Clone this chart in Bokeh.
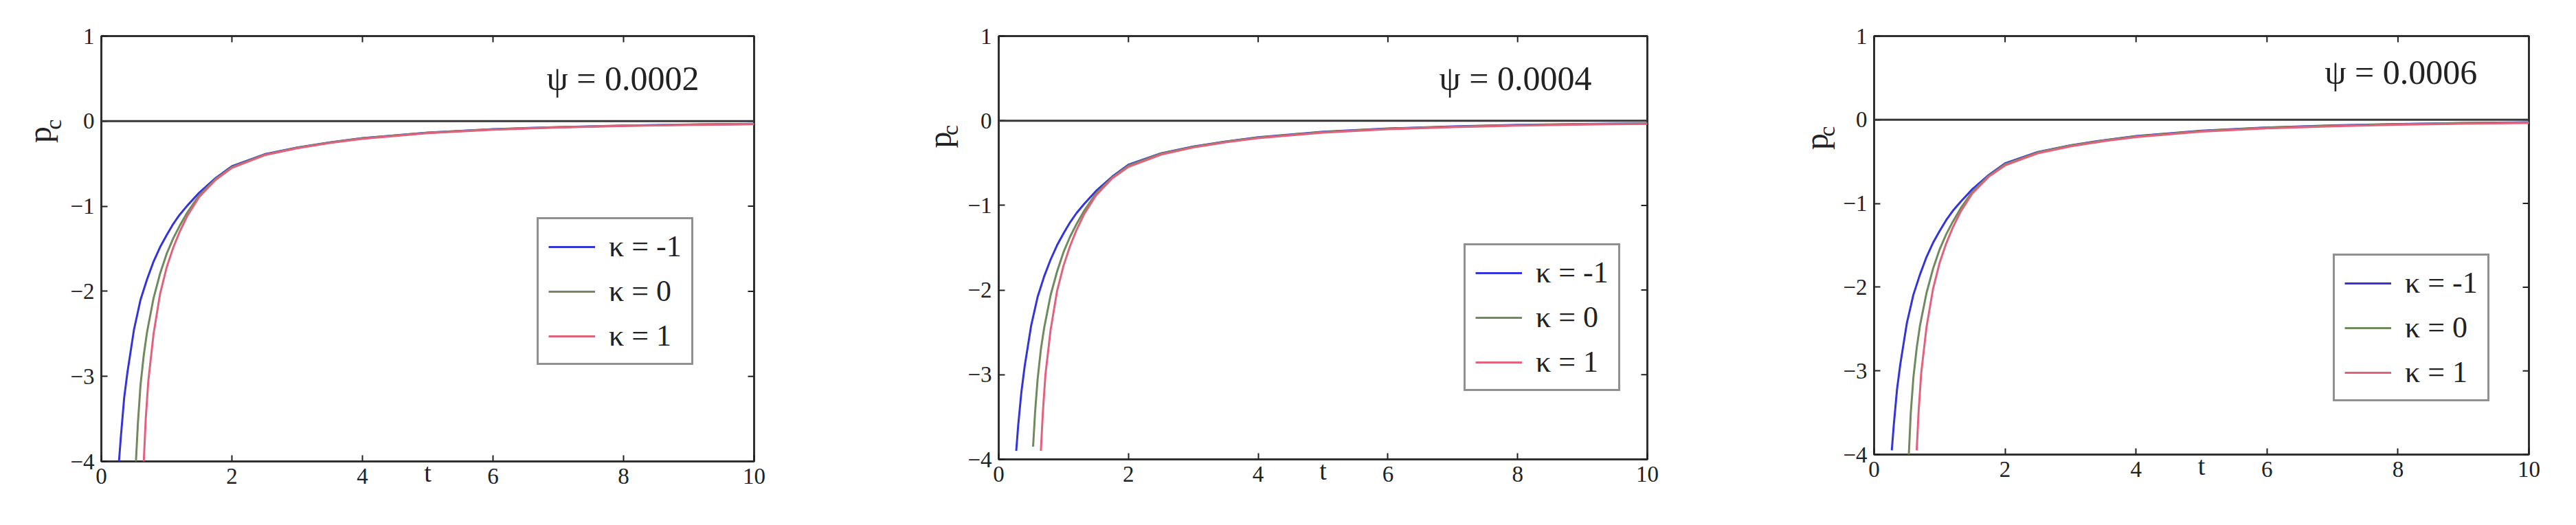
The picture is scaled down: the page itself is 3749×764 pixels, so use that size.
import math
from bokeh.plotting import figure
from bokeh.models import Span, Label, FixedTicker, Range1d
from bokeh.layouts import row
from bokeh.embed import file_html
from bokeh.resources import INLINE

# ---------------- data ----------------
X_TICKS = [0, 2, 4, 6, 8, 10]
Y_TICKS = [-4, -3, -2, -1, 0, 1]
PSI_LABELS = ["ψ = 0.0002", "ψ = 0.0004", "ψ = 0.0006"]
KAPPA_LABELS = ["κ = -1", "κ = 0", "κ = 1"]

# time samples for each curve
T_KM1 = [0.27, 0.30, 0.35, 0.40, 0.50, 0.60, 0.70, 0.80, 0.90, 1.00, 1.10, 1.20, 1.32,
         1.50, 1.75, 2.00, 2.50, 3.00, 3.50, 4.00, 5.00, 6.00, 7.00, 8.00, 9.00, 10.0]
T_K0 = [0.53, 0.56, 0.60, 0.65, 0.70, 0.80, 0.90, 1.00, 1.10, 1.20, 1.32,
        1.50, 1.75, 2.00, 2.50, 3.00, 3.50, 4.00, 5.00, 6.00, 7.00, 8.00, 9.00, 10.0]
T_KP1 = [0.65, 0.68, 0.72, 0.80, 0.90, 1.00, 1.10, 1.20, 1.32,
         1.50, 1.75, 2.00, 2.50, 3.00, 3.50, 4.00, 5.00, 6.00, 7.00, 8.00, 9.00, 10.0]

# psi = 0.0002
P1_KM1 = [-4.0, -3.7, -3.25, -2.95, -2.45, -2.1, -1.86, -1.65, -1.48, -1.34, -1.21, -1.1, -0.99,
          -0.84, -0.67, -0.53, -0.39, -0.31, -0.25, -0.20, -0.135, -0.095, -0.07, -0.052, -0.04, -0.032]
P1_K0 = [-4.0, -3.55, -3.1, -2.75, -2.48, -2.08, -1.79, -1.56, -1.38, -1.23, -1.07,
         -0.87, -0.68, -0.54, -0.395, -0.312, -0.252, -0.202, -0.137, -0.097, -0.072, -0.054, -0.042, -0.033]
P1_KP1 = [-4.0, -3.5, -3.05, -2.5, -2.03, -1.72, -1.49, -1.3, -1.11,
          -0.89, -0.69, -0.55, -0.40, -0.318, -0.257, -0.207, -0.14, -0.10, -0.075, -0.057, -0.045, -0.036]

# psi = 0.0004
P2_KM1 = [-3.9, -3.6, -3.2, -2.9, -2.42, -2.08, -1.84, -1.64, -1.47, -1.33, -1.2, -1.09, -0.98,
          -0.83, -0.66, -0.52, -0.385, -0.305, -0.245, -0.195, -0.13, -0.092, -0.068, -0.05, -0.039, -0.031]
P2_K0 = [-3.85, -3.45, -3.05, -2.7, -2.45, -2.06, -1.78, -1.55, -1.37, -1.22, -1.06,
         -0.86, -0.67, -0.53, -0.39, -0.308, -0.248, -0.199, -0.135, -0.095, -0.071, -0.053, -0.041, -0.033]
P2_KP1 = [-3.9, -3.45, -3.0, -2.47, -2.01, -1.71, -1.48, -1.29, -1.1,
          -0.88, -0.68, -0.545, -0.40, -0.316, -0.255, -0.205, -0.14, -0.10, -0.075, -0.057, -0.045, -0.036]

# psi = 0.0006
P3_KM1 = [-3.95, -3.65, -3.22, -2.92, -2.43, -2.09, -1.85, -1.64, -1.47, -1.33, -1.2, -1.09, -0.98,
          -0.83, -0.66, -0.52, -0.385, -0.305, -0.245, -0.195, -0.13, -0.092, -0.068, -0.05, -0.039, -0.031]
P3_K0 = [-4.0, -3.5, -3.08, -2.73, -2.46, -2.07, -1.78, -1.55, -1.37, -1.22, -1.06,
         -0.86, -0.67, -0.53, -0.39, -0.308, -0.248, -0.199, -0.135, -0.095, -0.071, -0.053, -0.041, -0.033]
P3_KP1 = [-3.95, -3.48, -3.02, -2.48, -2.02, -1.71, -1.48, -1.29, -1.1,
          -0.88, -0.68, -0.545, -0.40, -0.318, -0.257, -0.207, -0.142, -0.102, -0.077, -0.059, -0.047, -0.038]

COLORS = ["#3434dc", "#6f8a5c", "#e2627c"]

FONT = "Liberation Serif"
TXT = "#222222"
TICK_COLOR = "#202020"
FIG_H = 741


def make_ylabel(width, p_pos, c_pos):
    """Narrow strip left of a panel that carries the rotated y label p_c."""
    f = figure(width=width, height=FIG_H, x_range=Range1d(0, width),
               y_range=Range1d(FIG_H, 0), x_axis_type=None, y_axis_type=None,
               min_border=0, output_backend="svg", toolbar_location=None,
               background_fill_color="white", border_fill_color="white")
    f.outline_line_color = None
    f.grid.visible = False
    f.add_layout(Label(x=p_pos[0], y=p_pos[1], text="p", angle=math.pi / 2,
                       text_font=FONT, text_font_size="48px", text_color=TXT,
                       text_align="center", text_baseline="middle"))
    f.add_layout(Label(x=c_pos[0], y=c_pos[1], text="c", angle=math.pi / 2,
                       text_font=FONT, text_font_size="34px", text_color=TXT,
                       text_align="center", text_baseline="middle"))
    return f


def make_panel(psi_label, series, geom):
    (bl, fw, br, bt, fh, bb, leg_loc, psi_xy) = geom
    xr = Range1d(0, 10)
    yr = Range1d(-4, 1)
    p = figure(frame_width=fw, frame_height=fh,
               min_border_left=bl, min_border_right=br,
               min_border_top=bt, min_border_bottom=bb,
               x_range=xr, y_range=yr,
               output_backend="svg", toolbar_location=None,
               background_fill_color="white", border_fill_color="white")
    p.grid.visible = False
    p.outline_line_color = "#303030"
    p.outline_line_width = 3
    p.outline_line_alpha = 1

    # zero line
    p.add_layout(Span(location=0, dimension="width", line_color="#383838", line_width=3))

    for (tt, pp), col, lab in zip(series, COLORS, KAPPA_LABELS):
        p.line(tt, pp, line_color=col, line_width=3, legend_label=lab)

    # inward ticks on top and right edges (MATLAB-style box)
    p.ray(x=X_TICKS, y=[yr.end] * len(X_TICKS), length=9, length_units="screen",
          angle=-math.pi / 2, line_color=TICK_COLOR, line_width=2)
    p.ray(x=[xr.end] * len(Y_TICKS), y=Y_TICKS, length=9, length_units="screen",
          angle=math.pi, line_color=TICK_COLOR, line_width=2)

    # axes
    p.xaxis.ticker = FixedTicker(ticks=X_TICKS)
    p.yaxis.ticker = FixedTicker(ticks=Y_TICKS)
    for ax in list(p.xaxis) + list(p.yaxis):
        ax.axis_line_color = None
        ax.major_tick_in = 9
        ax.major_tick_out = 0
        ax.major_tick_line_color = TICK_COLOR
        ax.major_tick_line_width = 2
        ax.minor_tick_line_color = None
        ax.major_label_text_font = FONT
        ax.major_label_text_font_size = "33px"
        ax.major_label_text_color = TXT
        ax.major_label_standoff = 10
    p.xaxis.axis_label = "t"
    p.xaxis.axis_label_text_font = FONT
    p.xaxis.axis_label_text_font_size = "38px"
    p.xaxis.axis_label_text_font_style = "normal"
    p.xaxis.axis_label_text_color = TXT
    p.xaxis.axis_label_standoff = -40

    # legend
    lg = p.legend[0]
    lg.location = leg_loc
    lg.label_text_font = FONT
    lg.label_text_font_size = "44px"
    lg.label_text_color = TXT
    lg.glyph_width = 68
    lg.glyph_height = 44
    lg.label_height = 44
    lg.label_standoff = 20
    lg.padding = 14
    lg.spacing = 14
    lg.margin = 0
    lg.border_line_color = "#222222"
    lg.border_line_width = 3
    lg.background_fill_color = "white"
    lg.background_fill_alpha = 1

    # annotation
    p.add_layout(Label(x=psi_xy[0], y=psi_xy[1], text=psi_label, text_font=FONT,
                       text_font_size="50px", text_color=TXT, text_baseline="middle",
                       text_align="left"))
    return p


# label strips: (width, p centre, c centre) in strip pixels
label_geoms = [
    (99, (57, 175), (77, 157)),
    (206, (170, 184), (185, 167)),
    (182, (146, 187), (161, 169)),
]
# panels: border left, frame w, border right, border top, frame h, border bottom, legend, psi
geoms = [
    (42, 950, 100, 52, 619, 70, (634, 140), (6.82, 0.50)),
    (50, 944, 100, 49, 616, 76, (677, 99), (6.79, 0.50)),
    (47, 953, 40, 51, 609, 81, (668, 77), (6.88, 0.57)),
]
data = [
    [(T_KM1, P1_KM1), (T_K0, P1_K0), (T_KP1, P1_KP1)],
    [(T_KM1, P2_KM1), (T_K0, P2_K0), (T_KP1, P2_KP1)],
    [(T_KM1, P3_KM1), (T_K0, P3_K0), (T_KP1, P3_KP1)],
]

children = []
for lbl, d, g, lg_ in zip(PSI_LABELS, data, geoms, label_geoms):
    children.append(make_ylabel(*lg_))
    children.append(make_panel(lbl, d, g))
layout = row(*children)

open("out.html", "w").write(file_html(layout, INLINE))
